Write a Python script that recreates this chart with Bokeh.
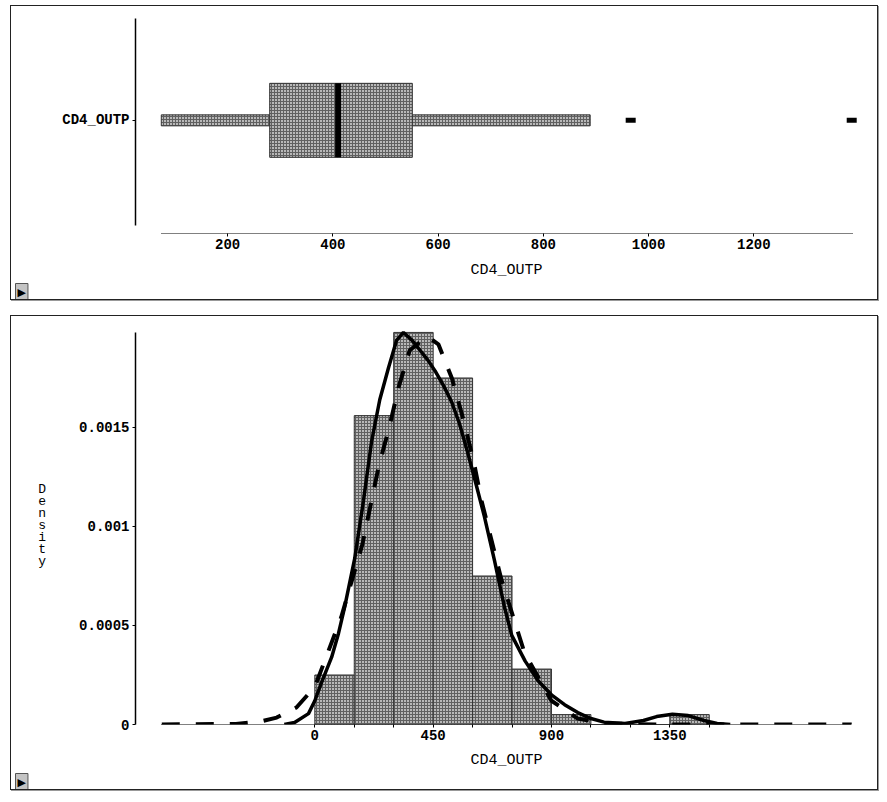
from bokeh.plotting import figure
from bokeh.layouts import column
from bokeh.models import Range1d, FixedTicker, CustomJSTickFormatter, Title
from bokeh.embed import file_html
from bokeh.resources import INLINE

# ---------------- data ----------------
variable = "CD4_OUTP"

# box plot summary
whisker_low = 74
q1 = 280
median = 410
q3 = 551
whisker_high = 889
outliers = [966, 1386]
data_min = 74
data_max = 1388
box_ticks = [200, 400, 600, 800, 1000, 1200]

# histogram (density scale), bins of width 150
bin_left = [0, 150, 300, 450, 600, 750, 900, 1050, 1200, 1350]
bin_right = [150, 300, 450, 600, 750, 900, 1050, 1200, 1350, 1500]
bin_density = [0.00025, 0.00156, 0.00198, 0.00175, 0.00075, 0.00028, 0.00005, 0.0, 0.0, 0.00005]

# kernel density curve (solid)
kde_x = [-116, -77, -24, 0, 25, 64, 90, 113, 152, 185, 216, 247, 280, 311, 337,
         370, 400, 430, 460, 490, 520, 550, 580, 610, 645, 683, 720, 749, 800,
         850, 900, 950, 1000, 1050, 1100, 1180, 1250, 1300, 1360, 1420, 1480, 1530, 1580]
kde_y = [0.0, 0.00001, 0.000055, 0.00012, 0.00021, 0.00034, 0.00046, 0.00059,
         0.00084, 0.00113, 0.00143, 0.00164, 0.0018, 0.00194, 0.00198,
         0.00194, 0.00189, 0.00184, 0.00178, 0.00171, 0.00163, 0.00152, 0.00138,
         0.00123, 0.00105, 0.00083, 0.0006, 0.00045, 0.00032,
         0.00022, 0.00015, 0.0001, 0.00006, 0.00003, 0.000012, 0.000005,
         0.00002, 0.00004, 0.000052, 0.000045, 0.00002, 0.000005, 0.0]

# fitted normal curve (dashed)
norm_x = [-582, -300, -200, -145, -70, 0, 100, 181, 244, 283, 318, 361, 428,
          470, 521, 565, 604, 634, 672, 710, 798, 900, 1000, 1100, 1300, 2042]
norm_y = [0.0, 0.000003, 0.000017, 0.000035, 0.000086, 0.00019, 0.00054,
          0.00091, 0.00131, 0.0015, 0.0017, 0.00189, 0.00196, 0.00192,
          0.00175, 0.00154, 0.00133, 0.00113, 0.00093, 0.00073, 0.00036,
          0.00012, 0.00003, 0.000005, 0.0, 0.0]

density_ticks = [0, 0.0005, 0.001, 0.0015]
hist_major_ticks = [0, 450, 900, 1350]
hist_minor_ticks = [150, 300, 600, 750, 1050, 1200, 1500]
axis_low, axis_high = -582, 2042
density_top = 0.00198

# ---------------- styles ----------------
MONO = "Liberation Mono"
FILL = dict(fill_color="#b8b8b8", hatch_pattern="+", hatch_scale=3,
            hatch_color="#606060", hatch_weight=1, line_color="#333333", line_width=1)
PANEL = {"border": "1px solid #222222", "box-shadow": "1px 1px 0 #999999"}


def style_axis(ax):
    ax.major_label_text_font = MONO
    ax.major_label_text_font_style = "bold"
    ax.major_label_text_font_size = "14px"
    ax.major_label_text_color = "black"
    ax.axis_label_text_font = MONO
    ax.axis_label_text_font_style = "normal"
    ax.axis_label_text_font_size = "15px"
    ax.axis_label_text_color = "black"
    ax.major_tick_in = 0
    ax.major_tick_out = 3
    ax.minor_tick_in = 0
    ax.minor_tick_out = 3
    ax.axis_line_color = "black"
    ax.major_tick_line_color = "black"


def play_button(p):
    p.add_layout(Title(text="\u25B6", align="left", offset=-120, standoff=0,
                       text_font="DejaVu Sans", text_font_size="11px", text_color="black",
                       text_font_style="normal",
                       background_fill_color="#c4c4c4", border_line_color="#555555",
                       padding=2), "below")


# ---------------- top: box plot ----------------
p1 = figure(width=868, height=295, x_range=Range1d(25, 1435), y_range=Range1d(0, 1.9),
            output_backend="svg", toolbar_location=None,
            min_border_left=124, min_border_right=2, min_border_top=12, min_border_bottom=68,
            margin=(5, 0, 0, 10), outline_line_color=None, styles=PANEL)
p1.grid.visible = False

p1.hbar(y=[1, 1], left=[whisker_low, q3], right=[q1, whisker_high], height=0.097, **FILL)
p1.hbar(y=[1], left=[q1], right=[q3], height=0.654, **FILL)
p1.segment(x0=[median], y0=[1 - 0.327], x1=[median], y1=[1 + 0.327], line_width=6, line_color="black")
p1.scatter(x=outliers, y=[1] * len(outliers), marker="dash", size=10, line_width=5, line_color="black")

style_axis(p1.xaxis[0])
style_axis(p1.yaxis[0])
p1.xaxis.ticker = FixedTicker(ticks=box_ticks, minor_ticks=[])
p1.xaxis.bounds = (data_min, data_max)
p1.xaxis.axis_line_dash = "1 1"
p1.xaxis.axis_label = variable
p1.xaxis.major_label_standoff = 2
p1.xaxis.axis_label_standoff = 10
p1.yaxis.ticker = FixedTicker(ticks=[1], minor_ticks=[])
p1.yaxis.major_label_overrides = {1: variable}
p1.yaxis.bounds = (0.07, 1.9)
p1.yaxis.axis_line_width = 1.5
p1.yaxis.major_label_standoff = 3
play_button(p1)

# ---------------- bottom: histogram with densities ----------------
p2 = figure(width=868, height=475, x_range=Range1d(-682, 2140), y_range=Range1d(0, 0.002015),
            output_backend="svg", toolbar_location=None,
            min_border_left=124, min_border_right=2, min_border_top=9, min_border_bottom=67,
            margin=(15, 0, 0, 10), outline_line_color=None, styles=PANEL)
p2.grid.visible = False

p2.quad(left=bin_left, right=bin_right, bottom=0, top=bin_density, **FILL)
p2.line(norm_x, norm_y, line_width=4, line_dash="18 16", line_color="black")
p2.line(kde_x, kde_y, line_width=3.5, line_color="black")

style_axis(p2.xaxis[0])
style_axis(p2.yaxis[0])
p2.xaxis.ticker = FixedTicker(ticks=hist_major_ticks, minor_ticks=hist_minor_ticks)
p2.xaxis.bounds = (axis_low, axis_high)
p2.xaxis.axis_line_dash = "1 1"
p2.xaxis.axis_label = variable
p2.xaxis.major_label_standoff = 2
p2.xaxis.axis_label_standoff = 9
p2.yaxis.ticker = FixedTicker(ticks=density_ticks, minor_ticks=[])
p2.yaxis.formatter = CustomJSTickFormatter(code="return tick.toString();")
p2.yaxis.bounds = (0, density_top)
p2.yaxis.axis_line_width = 1.5
p2.yaxis.major_label_standoff = 3
p2.yaxis.axis_label = "\n".join("Density")
p2.yaxis.axis_label_orientation = "horizontal"
p2.yaxis.axis_label_text_font_size = "13px"
p2.yaxis.axis_label_text_line_height = 0.8
p2.yaxis.axis_label_standoff = 30
play_button(p2)

layout = column(p1, p2)
open("out.html", "w").write(file_html(layout, INLINE))
